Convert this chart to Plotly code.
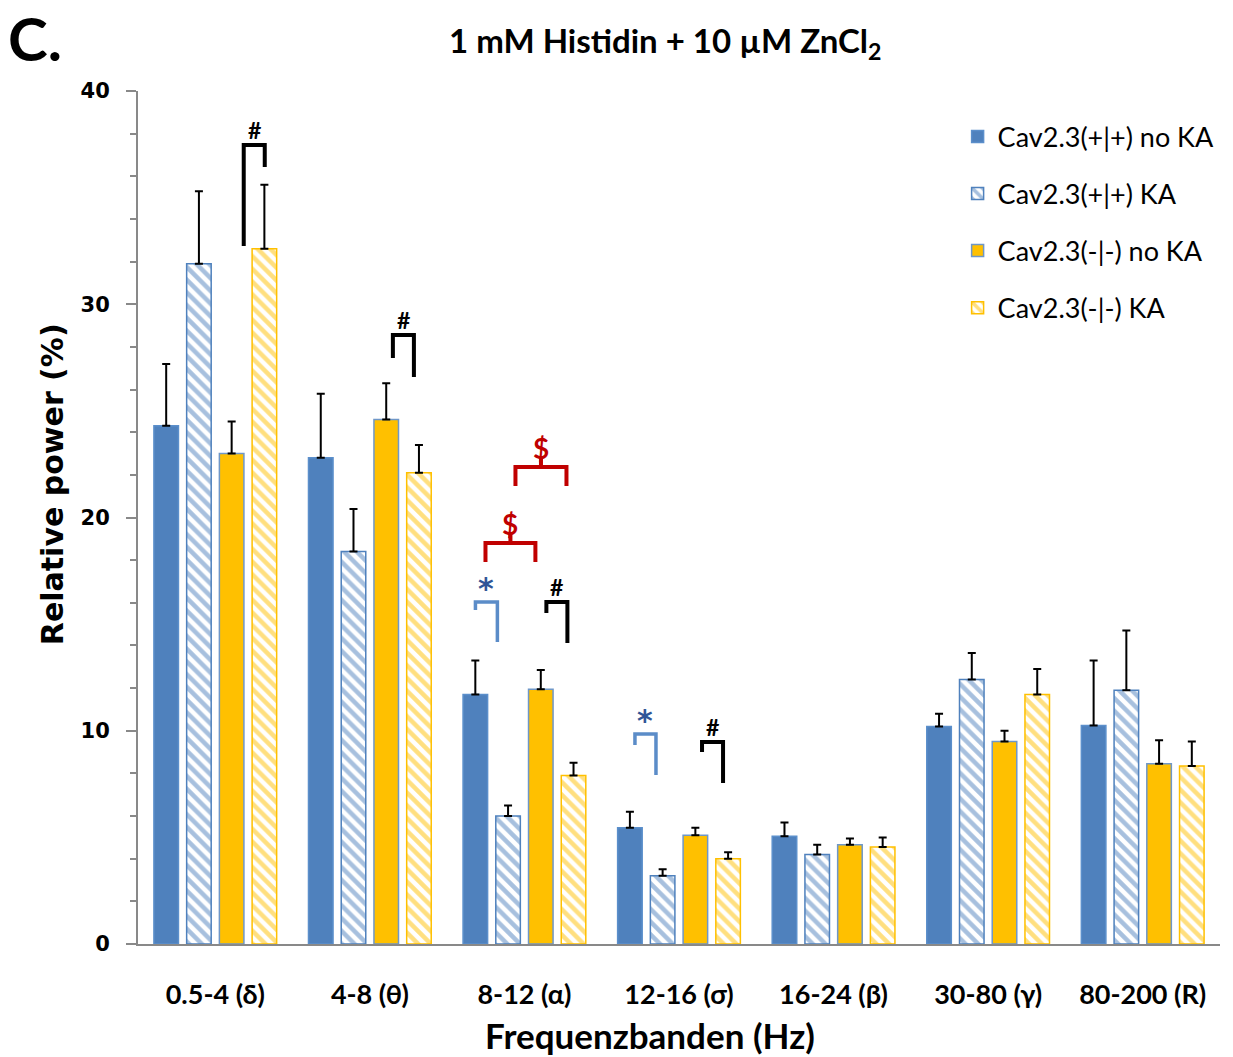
import plotly.graph_objects as go

categories = ["0.5-4 (δ)", "4-8 (θ)", "8-12 (α)", "12-16 (σ)", "16-24 (β)", "30-80 (γ)", "80-200 (R)"]
series_names = ["Cav2.3(+|+) no KA", "Cav2.3(+|+) KA", "Cav2.3(-|-) no KA", "Cav2.3(-|-) KA"]

wt_noka = [24.3, 22.8, 11.7, 5.45, 5.05, 10.2, 10.25]
wt_noka_err = [2.9, 3.0, 1.6, 0.75, 0.65, 0.6, 3.05]
wt_ka = [31.9, 18.4, 6.0, 3.2, 4.2, 12.4, 11.9]
wt_ka_err = [3.4, 2.0, 0.5, 0.3, 0.45, 1.25, 2.8]
ko_noka = [23.0, 24.6, 11.95, 5.1, 4.65, 9.5, 8.45]
ko_noka_err = [1.5, 1.7, 0.9, 0.35, 0.3, 0.5, 1.1]
ko_ka = [32.6, 22.1, 7.9, 4.0, 4.55, 11.7, 8.35]
ko_ka_err = [3.0, 1.3, 0.6, 0.3, 0.45, 1.2, 1.15]

y_ticks = [0, 10, 20, 30, 40]

# significance brackets: (category index, left offset, right offset, top y, left end y, right end y, label, kind)
brackets = [
    (0, 0.184, 0.320, 37.47, 32.73, 36.44, "#", "black"),
    (1, 0.149, 0.285, 28.56, 27.48, 26.59, "#", "black"),
    (2, -0.317, -0.175, 16.04, 15.66, 14.16, "*", "blue"),
    (2, 0.142, 0.278, 16.04, 15.52, 14.11, "#", "black"),
    (2, -0.252, 0.071, 18.80, 17.91, 17.91, "$", "red"),
    (2, -0.058, 0.272, 22.37, 21.48, 21.48, "$", "red"),
    (3, -0.285, -0.149, 9.85, 9.33, 7.92, "*", "blue"),
    (3, 0.149, 0.285, 9.47, 9.00, 7.55, "#", "black"),
]

BLUE = "#4F81BD"
YELLOW = "#FFC000"
CAL = "Lato, Open Sans, sans-serif"
x_idx = list(range(len(categories)))

values = [wt_noka, wt_ka, ko_noka, ko_ka]
errors = [wt_noka_err, wt_ka_err, ko_noka_err, ko_ka_err]
styles = [
    dict(color=BLUE, line=dict(color="#5B8FCB", width=1.5)),
    dict(color="white", line=dict(color=BLUE, width=1.5),
         pattern=dict(shape="\\", fgcolor=BLUE, bgcolor="white", size=9, solidity=0.5)),
    dict(color=YELLOW, line=dict(color="#6F97C8", width=1.5)),
    dict(color="white", line=dict(color=YELLOW, width=1.5),
         pattern=dict(shape="\\", fgcolor=YELLOW, bgcolor="white", size=9, solidity=0.5)),
]

fig = go.Figure()
for i in range(4):
    fig.add_trace(go.Bar(
        x=x_idx, y=values[i], name=series_names[i], marker=styles[i],
        legendgroup=f"g{i}",
        error_y=dict(type="data", array=errors[i], symmetric=False,
                     arrayminus=[0] * len(categories), color="black",
                     thickness=2, width=4),
    ))

shapes = []
annotations = []
colors = {"black": ("black", "black"), "blue": ("#5B8CC8", "#2F5597"), "red": ("#C00000", "#C00000")}
for cat, lo, ro, yt, yl, yr, lab, kind in brackets:
    lc, tc = colors[kind]
    xl, xr = cat + lo, cat + ro
    path = f"M {xl},{yl} L {xl},{yt} L {xr},{yt} L {xr},{yr}"
    xm = (xl + xr) / 2
    if kind == "red":
        path += f" M {xm},{yt} L {xm},{yt + 0.4}"
    shapes.append(dict(type="path", path=path, xref="x", yref="y",
                       line=dict(color=lc, width=4 if kind != "blue" else 3.5)))
    fam = CAL
    if lab == "#":
        fs, ys = 23, -1
    elif lab == "*":
        fs, ys, fam = 30, -6, "DejaVu Sans"
    else:
        fs, ys = 28, 0
    annotations.append(dict(x=xm, y=yt, xref="x", yref="y", text=f"<b>{lab}</b>",
                            showarrow=False, yanchor="bottom", yshift=ys,
                            font=dict(size=fs, color=tc, family=fam)))

annotations += [
    dict(x=0.487, y=1.057, xref="paper", yref="paper", showarrow=False,
         text="1 mM Histidin + 10 µM ZnCl<sub>2</sub>", xanchor="center", yanchor="middle",
         font=dict(size=33, color="black", family=CAL, weight="bold")),
    dict(x=-0.122, y=1.062, xref="paper", yref="paper", showarrow=False, text="C.",
         xanchor="left", yanchor="middle",
         font=dict(size=60, color="black", family=CAL, weight="bold")),
    dict(x=0.473, y=-0.107, xref="paper", yref="paper", showarrow=False, text="Frequenzbanden (Hz)",
         xanchor="center", yanchor="middle",
         font=dict(size=35, color="black", family=CAL, weight="bold")),
    dict(x=-0.0795, y=0.539, xref="paper", yref="paper", showarrow=False, text="Relative power (%)",
         textangle=-90, xanchor="center", yanchor="middle",
         font=dict(size=30, color="black", family="DejaVu Sans", weight="bold")),
]

fig.update_layout(
    width=1233, height=1057,
    margin=dict(l=138, r=13, t=91, b=113, autoexpand=False),
    paper_bgcolor="white", plot_bgcolor="white",
    barmode="group", bargap=0.153, bargroupgap=0.25,
    shapes=shapes, annotations=annotations,
    showlegend=True,
    legend=dict(x=0.7575, xanchor="left", y=0.975, yanchor="top",
                font=dict(size=27, color="black", family=CAL),
                tracegroupgap=19, bgcolor="rgba(0,0,0,0)", itemwidth=30),
    xaxis=dict(tickmode="array", tickvals=x_idx, ticktext=categories,
               range=[-0.5, len(categories) - 0.5], automargin=False,
               showline=True, linecolor="#898989", linewidth=2, ticks="",
               showgrid=False, zeroline=False, ticklabelstandoff=26,
               tickfont=dict(size=27, color="black", family=CAL, weight="bold")),
    yaxis=dict(range=[0, 40], tickmode="array", tickvals=y_ticks, automargin=False,
               showline=True, linecolor="#898989", linewidth=2,
               ticks="outside", ticklen=10, tickcolor="#898989", tickwidth=2,
               minor=dict(dtick=2, ticks="outside", ticklen=6, tickcolor="#898989", tickwidth=2),
               showgrid=False, zeroline=False, ticklabelstandoff=12,
               tickfont=dict(size=21, color="black", family="DejaVu Sans", weight="bold")),
)

fig.write_html("out.html", config={"displayModeBar": False},
               post_script="document.body.style.margin='0';document.body.style.overflow='hidden';")
